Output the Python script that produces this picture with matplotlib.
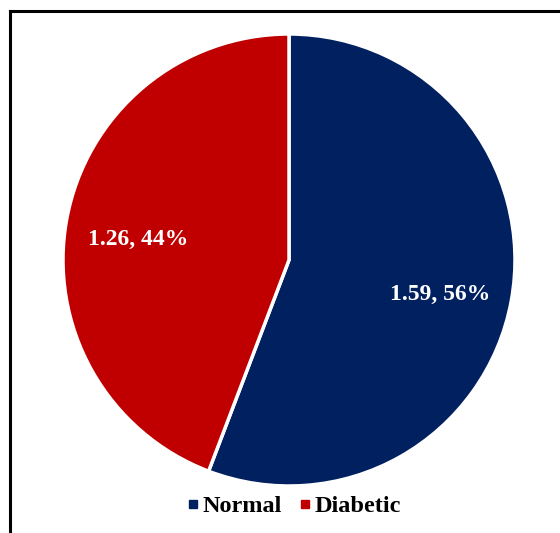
import matplotlib
matplotlib.use("Agg")
import matplotlib.pyplot as plt
from matplotlib.lines import Line2D

categories = ["Normal", "Diabetic"]
values = [1.59, 1.26]
colors = ["#002060", "#C00000"]

W, H = 560, 533
fig = plt.figure(figsize=(W / 100, H / 100), dpi=100)
plt.rcParams["font.family"] = ["Liberation Serif", "DejaVu Serif"]

# chart frame (top and left edges visible)
fig.add_artist(Line2D([10 / W, 1.0], [1 - 11 / H, 1 - 11 / H], color="black", lw=2.2,
                      transform=fig.transFigure))
fig.add_artist(Line2D([10 / W, 10 / W], [0, 1 - 11 / H], color="black", lw=2.2,
                      transform=fig.transFigure))

cx, cy, r = 289, 260, 226
ax = fig.add_axes([(cx - r) / W, (H - cy - r) / H, 2 * r / W, 2 * r / H])
total = sum(values)

wedges, texts, autotexts = ax.pie(
    values, colors=colors, startangle=90, counterclock=False,
    autopct=lambda p: f"{p * total / 100:.2f}, {p:.0f}%",
    pctdistance=0.68,
    wedgeprops=dict(edgecolor="white", linewidth=2.5),
    textprops=dict(color="white", fontsize=17, fontweight="bold"),
)
for t in autotexts:
    x, y = t.get_position()
    t.set_position((x, y - 0.03))
ax.set_xlim(-1, 1)
ax.set_ylim(-1, 1)
ax.set_aspect("equal")

handles = [Line2D([0], [0], marker="s", color="none", markerfacecolor=c,
                  markeredgecolor=c, markersize=6) for c in colors]
fig.legend(handles, categories, loc="center", bbox_to_anchor=(294 / W, 1 - 506 / H),
           ncol=2, frameon=False, handlelength=0.5, handletextpad=0.15,
           columnspacing=0.7, prop=dict(size=17.5, weight="bold"))

fig.savefig("out.png", dpi=100)
